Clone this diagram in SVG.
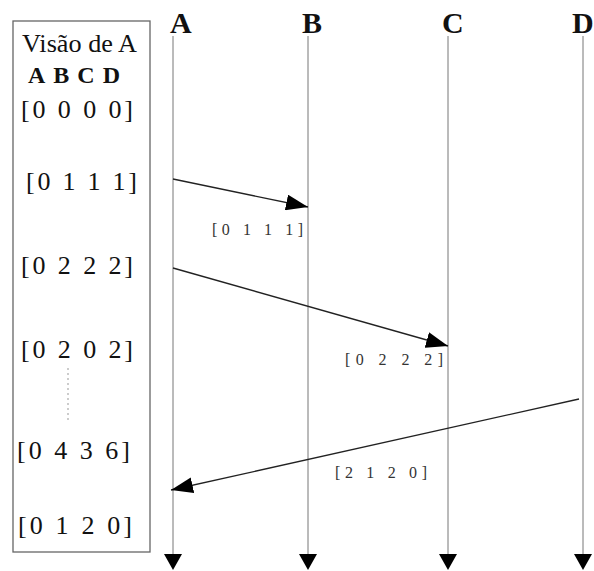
<svg xmlns="http://www.w3.org/2000/svg" width="594" height="571" viewBox="0 0 594 571">
<style>
text{font-family:"Liberation Serif","Times New Roman",serif;fill:#111}
.proc{font-size:30px;font-weight:bold}
.vec{font-size:26px}
.msg{font-size:16px;fill:#333}
.life{stroke:#777;stroke-width:1;fill:none}
.arrow{stroke:#222;stroke-width:1.3;fill:none}
</style>
<defs>
<marker id="ah" markerUnits="userSpaceOnUse" markerWidth="24" markerHeight="16" refX="22" refY="8" orient="auto">
<path d="M0,0 L22,8 L0,16 Z" fill="#000"/>
</marker>
</defs>
<g id="view">
<rect x="13" y="21" width="137" height="531" fill="none" stroke="#666" stroke-width="1.3"/>
<text x="22" y="52" font-size="25" textLength="115" lengthAdjust="spacingAndGlyphs">Visão de A</text>
<text x="28" y="83" font-size="24" font-weight="bold" textLength="92" lengthAdjust="spacing">ABCD</text>
<text class="vec" x="21" y="118" textLength="112" lengthAdjust="spacing">[0 0 0 0]</text>
<text class="vec" x="26" y="190" textLength="111" lengthAdjust="spacing">[0 1 1 1]</text>
<text class="vec" x="21" y="274" textLength="112" lengthAdjust="spacing">[0 2 2 2]</text>
<text class="vec" x="21" y="358" textLength="112" lengthAdjust="spacing">[0 2 0 2]</text>
<line x1="68" y1="368" x2="68" y2="420" stroke="#999" stroke-width="1" stroke-dasharray="2,3"/>
<text class="vec" x="17" y="459" textLength="113" lengthAdjust="spacing">[0 4 3 6]</text>
<text class="vec" x="18" y="534" textLength="114" lengthAdjust="spacing">[0 1 2 0]</text>
</g>
<g id="A">
<text class="proc" x="170" y="33">A</text>
<line class="life" x1="173" y1="36" x2="173" y2="556"/>
<path d="M164,554 L182,554 L173,570 Z" fill="#000"/>
</g>
<g id="B">
<text class="proc" x="302" y="33">B</text>
<line class="life" x1="308" y1="36" x2="308" y2="556"/>
<path d="M299,554 L317,554 L308,570 Z" fill="#000"/>
</g>
<g id="C">
<text class="proc" x="442" y="33">C</text>
<line class="life" x1="448" y1="36" x2="448" y2="556"/>
<path d="M439,554 L457,554 L448,570 Z" fill="#000"/>
</g>
<g id="D">
<text class="proc" x="572" y="33">D</text>
<line class="life" x1="583" y1="36" x2="583" y2="556"/>
<path d="M574,554 L592,554 L583,570 Z" fill="#000"/>
</g>
<g id="connectors">
<line class="arrow" x1="173" y1="179" x2="308" y2="207" marker-end="url(#ah)"/>
<text class="msg" x="212" y="235" textLength="91" lengthAdjust="spacing">[0 1 1 1]</text>
<line class="arrow" x1="173" y1="268" x2="448" y2="346" marker-end="url(#ah)"/>
<text class="msg" x="345" y="365" textLength="98" lengthAdjust="spacing">[0 2 2 2]</text>
<line class="arrow" x1="579" y1="399" x2="171" y2="490" marker-end="url(#ah)"/>
<text class="msg" x="335" y="478" textLength="92" lengthAdjust="spacing">[2 1 2 0]</text>
</g>
</svg>
